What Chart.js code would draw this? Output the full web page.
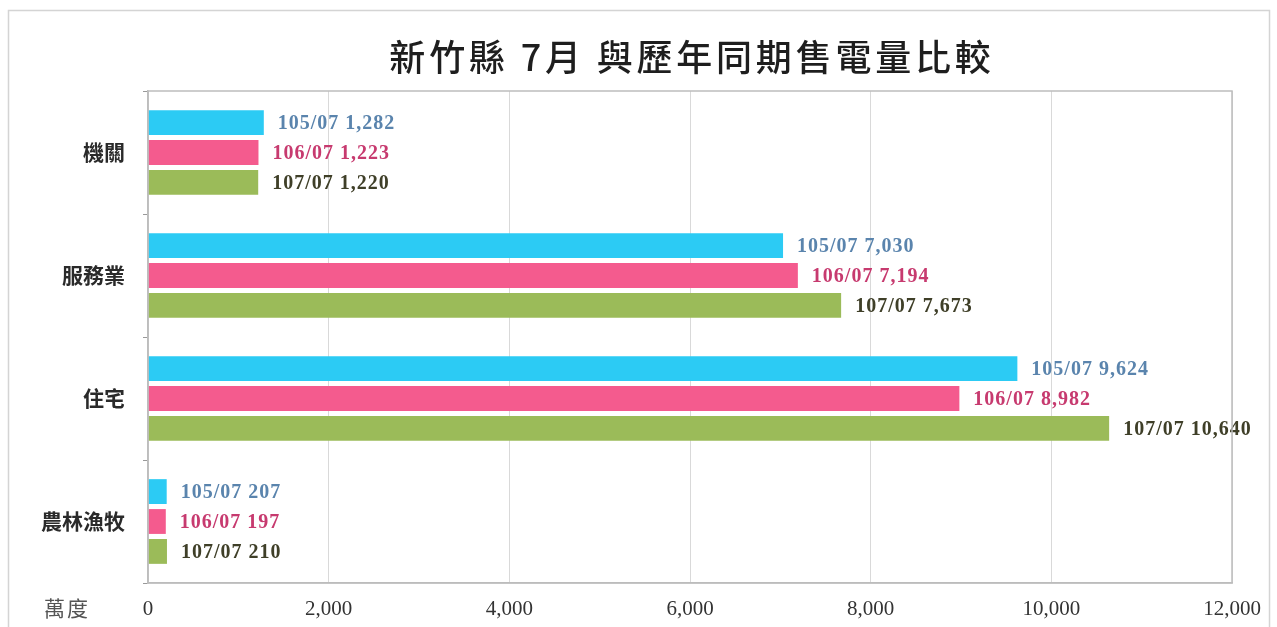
<!DOCTYPE html>
<html>
<head>
<meta charset="utf-8">
<script src="https://cdn.jsdelivr.net/npm/chart.js@4/dist/chart.umd.min.js"></script>
<style>
html,body{margin:0;padding:0;background:#fff;}
#wrap{width:1277px;height:627px;position:relative;}
</style>
</head>
<body>
<div id="wrap"><canvas id="c" width="1277" height="627"></canvas></div>
<script>
const categories = ['機關', '服務業', '住宅', '農林漁牧'];
const periods = ['105/07', '106/07', '107/07'];
const values105 = [1282, 7030, 9624, 207];
const values106 = [1223, 7194, 8982, 197];
const values107 = [1220, 7673, 10640, 210];
const xTicks = [0, 2000, 4000, 6000, 8000, 10000, 12000];
const unitLabel = '萬度';
const titleText = '新竹縣 7月 與歷年同期售電量比較';

const barColors = ['#2ccbf4', '#f45b8e', '#9bbb59'];
const labelColors = ['#5a84ad', '#c73a6f', '#3f3f28'];

const framePlugin = {
  id: 'frame',
  beforeDraw(chart) {
    const ctx = chart.ctx;
    ctx.save();
    ctx.fillStyle = '#fff';
    ctx.fillRect(0, 0, chart.width, chart.height);
    ctx.strokeStyle = '#d4d4d4';
    ctx.lineWidth = 1.5;
    ctx.strokeRect(8.5, 10.5, 1261, 640);
    // title
    ctx.fillStyle = '#1e1e1e';
    ctx.font = '500 36px "Noto Sans CJK TC"';
    ctx.letterSpacing = '3.8px';
    ctx.textAlign = 'center';
    ctx.textBaseline = 'middle';
    ctx.fillText(titleText, 692, 57);
    ctx.restore();
  },
  afterDraw(chart) {
    const ctx = chart.ctx;
    const a = chart.chartArea;
    ctx.save();
    ctx.strokeStyle = '#bdbdbd';
    ctx.lineWidth = 1.5;
    ctx.strokeRect(a.left, a.top, a.right - a.left, a.bottom - a.top);
    ctx.fillStyle = '#555';
    ctx.font = '21px "Noto Sans CJK TC"';
    ctx.letterSpacing = '2px';
    ctx.textAlign = 'left';
    ctx.textBaseline = 'middle';
    ctx.fillText(unitLabel, 44, 608);
    ctx.restore();
  },
  afterDatasetsDraw(chart) {
    const ctx = chart.ctx;
    ctx.save();
    ctx.font = 'bold 20px "Liberation Serif"';
    ctx.letterSpacing = '1px';
    ctx.textAlign = 'left';
    ctx.textBaseline = 'middle';
    chart.data.datasets.forEach((ds, di) => {
      const meta = chart.getDatasetMeta(di);
      ctx.fillStyle = labelColors[di];
      meta.data.forEach((bar, i) => {
        const v = ds.data[i];
        ctx.fillText(periods[di] + ' ' + v.toLocaleString('en-US'), bar.x + 14, bar.y + 1);
      });
    });
    ctx.restore();
  }
};

const seriesValues = [values105, values106, values107];

new Chart(document.getElementById('c'), {
  type: 'bar',
  data: {
    labels: categories,
    datasets: periods.map((p, i) => ({
      label: p,
      data: seriesValues[i],
      backgroundColor: barColors[i],
      borderWidth: 0,
      categoryPercentage: 0.73,
      barPercentage: 0.83
    }))
  },
  options: {
    indexAxis: 'y',
    responsive: false,
    animation: false,
    layout: { padding: { left: 0, right: 45, top: 91, bottom: 0 } },
    plugins: {
      legend: { display: false },
      tooltip: { enabled: false },
      title: { display: false }
    },
    scales: {
      x: {
        min: 0,
        max: 12000,
        afterBuildTicks(scale) { scale.ticks = xTicks.map(v => ({ value: v })); },
        afterFit(scale) { scale.height = 44; },
        grid: { color: '#d9d9d9', lineWidth: 1, drawTicks: false },
        border: { display: true, color: '#bdbdbd', width: 1.5 },
        ticks: {
          padding: 14,
          color: '#333',
          font: { family: '"Liberation Serif"', size: 21 },
          callback: v => v.toLocaleString('en-US')
        }
      },
      y: {
        afterFit(scale) { scale.width = 148; },
        grid: { display: true, drawOnChartArea: false, offset: true, tickLength: 5, color: '#999' },
        border: { display: true, color: '#bdbdbd', width: 1.5 },
        ticks: {
          padding: 18,
          color: '#2a2a2a',
          font: { family: '"Noto Sans CJK TC"', size: 21, weight: 'bold' }
        }
      }
    }
  },
  plugins: [framePlugin]
});
</script>
</body>
</html>
